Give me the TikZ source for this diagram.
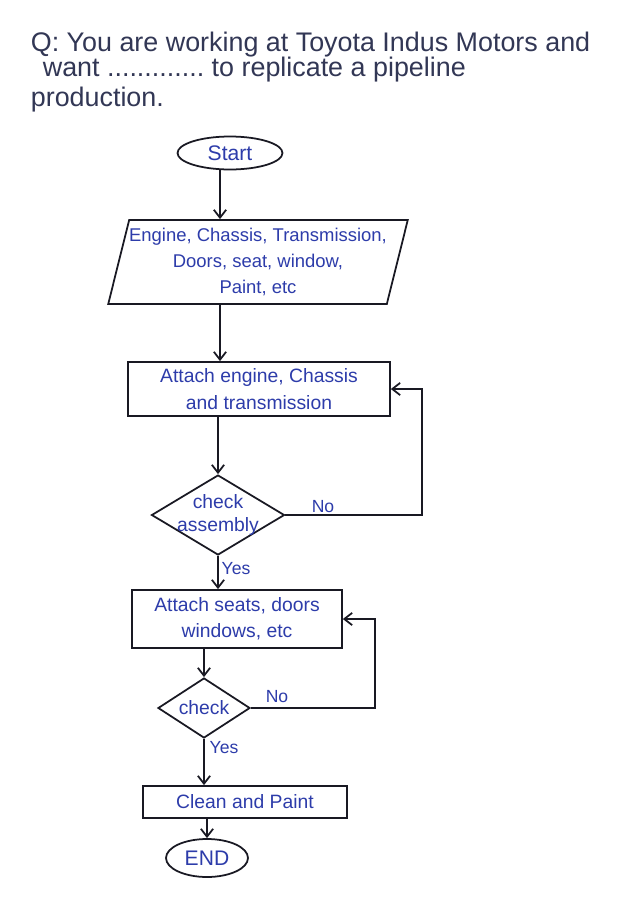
\documentclass[tikz,border=0pt]{standalone}
\usepackage{fontspec}
\setmainfont{Liberation Sans}
\usetikzlibrary{shapes.geometric,arrows.meta}
\definecolor{inkblue}{RGB}{45,60,170}
\definecolor{inkdark}{RGB}{50,55,85}
\definecolor{linek}{RGB}{25,25,35}
\tikzset{
  every picture/.style={line width=1pt},
  box/.style={draw=linek, rectangle, inner sep=2pt, align=center, text=inkblue, font=\fontsize{11}{15}\selectfont},
  term/.style={draw=linek, ellipse, inner sep=0pt, text=inkblue, font=\fontsize{12}{14}\selectfont},
  io/.style={draw=linek, trapezium, trapezium left angle=73, trapezium right angle=107, trapezium stretches body, inner sep=0pt, align=center, text=inkblue, font=\fontsize{10.5}{15}\selectfont},
  dia/.style={draw=linek, diamond, inner sep=0pt},
  diatext/.style={text=inkblue, align=center, font=\fontsize{11}{13}\selectfont},
  lbl/.style={text=inkblue, font=\fontsize{10}{12}\selectfont, inner sep=1pt},
  title/.style={text=inkdark, anchor=west, inner sep=0pt, font=\fontsize{15.3}{17}\selectfont},
  flow/.style={draw=linek, -{Straight Barb[length=4.5pt,width=7pt]}}
}
\begin{document}
\begin{tikzpicture}[x=0.02cm,y=-0.02cm]
\useasboundingbox[fill=white] (0,0) rectangle (628,903);
% title
\node[title] (t1) at (30,45) {Q: You are working at Toyota Indus Motors and};
\node[title] (t2) at (42,70) {want .............\ to replicate a pipeline};
\node[title] (t3) at (30,100) {production.};
% nodes
\node[term, minimum width=2.1cm, minimum height=0.66cm] (start) at (230,153) {Start};
\node[io, minimum width=5.8cm, minimum height=1.68cm] (para) at (258,262) {Engine, Chassis, Transmission,\\Doors, seat, window,\\Paint, etc};
\node[box, minimum width=5.24cm, minimum height=1.08cm] (r1) at (259,389) {Attach engine, Chassis\\and transmission};
\node[dia, minimum width=2.66cm, minimum height=1.6cm] (d1) at (218,515) {};
\node[diatext] (d1t) at (d1) {check\\assembly};
\node[box, minimum width=4.2cm, minimum height=1.16cm] (r2) at (237,619) {Attach seats, doors\\windows, etc};
\node[dia, minimum width=1.84cm, minimum height=1.2cm] (d2) at (204,708) {};
\node[diatext] (d2t) at (d2) {check};
\node[box, minimum width=4.08cm, minimum height=0.64cm] (r3) at (245,802) {Clean and Paint};
\node[term, minimum width=1.64cm, minimum height=0.76cm] (endn) at (207,858) {END};
\coordinate (sp) at (220,0);
\coordinate (l1) at (422,0);
\coordinate (l2) at (375,0);
% connectors
\draw[flow] (start.south -| sp) -- (para.north -| sp);
\draw[flow] (para.south -| sp) -- (r1.north -| sp);
\draw[flow] (r1.south -| d1) -- (d1.north);
\draw[flow] (d1.east) -- (d1.east -| l1) |- (r1.east);
\draw[flow] (d1.south) -- (d1.south |- r2.north);
\draw[flow] (r2.south -| d2) -- (d2.north);
\draw[flow] (d2.east) -- (d2.east -| l2) |- (r2.east);
\draw[flow] (d2.south) -- (d2.south |- r3.north);
\draw[flow] (r3.south -| endn) -- (endn.north);
% labels
\node[lbl] (no1) at (323,507) {No};
\node[lbl] (no2) at (277,697) {No};
\node[lbl] (yes1) at (236,569) {Yes};
\node[lbl] (yes2) at (224,748) {Yes};
\end{tikzpicture}
\end{document}
